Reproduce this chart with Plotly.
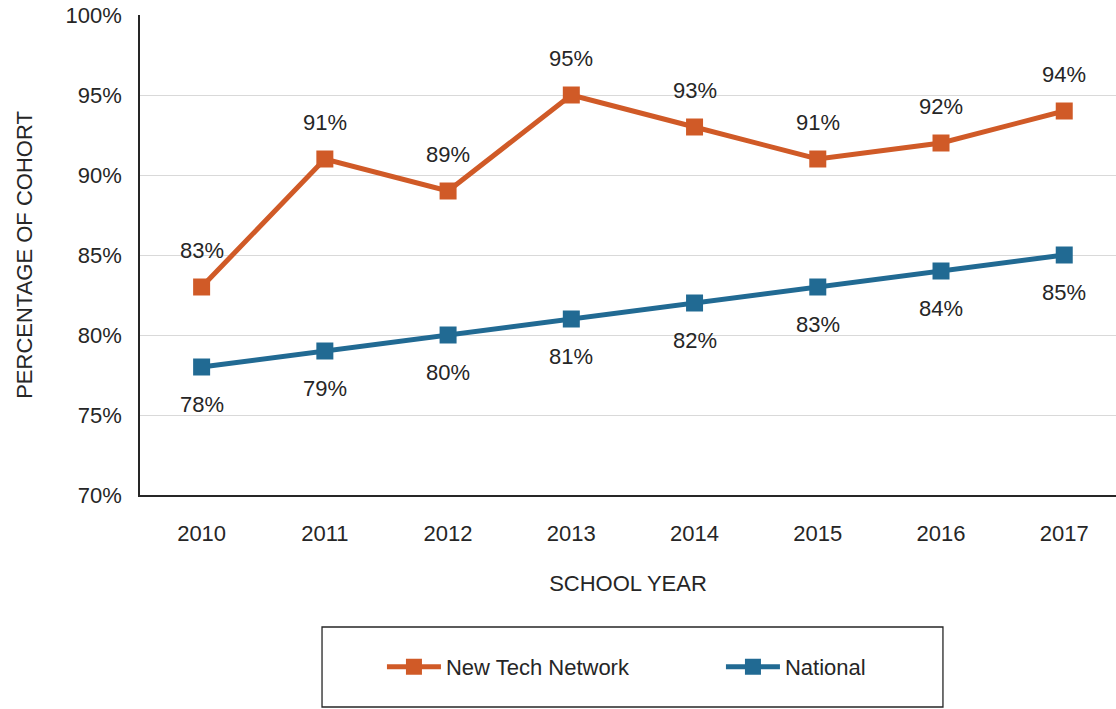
import plotly.graph_objects as go

years = [2010, 2011, 2012, 2013, 2014, 2015, 2016, 2017]
new_tech = [83, 91, 89, 95, 93, 91, 92, 94]
national = [78, 79, 80, 81, 82, 83, 84, 85]
y_ticks = [70, 75, 80, 85, 90, 95, 100]
y_tick_labels = [f"{v}%" for v in y_ticks]

ORANGE = "#D05A27"
BLUE = "#216A93"
TXT = "#262626"
FONT = "Liberation Sans"
FS = 22

fig = go.Figure()
fig.add_trace(go.Scatter(x=years, y=new_tech, name="New Tech Network", mode="lines+markers",
                         line=dict(color=ORANGE, width=5),
                         marker=dict(symbol="square", size=17, color=ORANGE)))
fig.add_trace(go.Scatter(x=years, y=national, name="National", mode="lines+markers",
                         line=dict(color=BLUE, width=5),
                         marker=dict(symbol="square", size=17, color=BLUE)))

for x, v in zip(years, new_tech):
    fig.add_annotation(x=x, y=v, text=f"{v}%", showarrow=False, yshift=37,
                       font=dict(size=FS, color=TXT, family=FONT))
for x, v in zip(years, national):
    fig.add_annotation(x=x, y=v, text=f"{v}%", showarrow=False, yshift=-37,
                       font=dict(size=FS, color=TXT, family=FONT))

fig.add_shape(type="rect", xref="paper", yref="paper",
              x0=0.1865, x1=0.8227, y0=-0.4417, y1=-0.275,
              line=dict(color="#262626", width=1.3), fillcolor="rgba(0,0,0,0)")

fig.update_layout(
    width=1116, height=709,
    margin=dict(l=140, r=0, t=15, b=214),
    paper_bgcolor="white", plot_bgcolor="white",
    font=dict(family=FONT, size=FS, color=TXT),
    showlegend=True,
    legend=dict(orientation="h", x=0.2479, xanchor="left", y=-0.358, yanchor="middle",
                font=dict(size=FS, color=TXT, family=FONT),
                itemwidth=54, entrywidth=270, bgcolor="rgba(0,0,0,0)"),
    xaxis=dict(range=[2009.5, 2017.42], tickvals=years, showgrid=False,
               showline=True, linecolor="#262626", linewidth=1.5,
               ticks="", ticklabelstandoff=18, tickfont=dict(size=FS, color=TXT),
               title=dict(text="SCHOOL YEAR", font=dict(size=FS, color=TXT), standoff=30)),
    yaxis=dict(range=[70, 100], tickvals=y_ticks, ticktext=y_tick_labels,
               showgrid=True, gridcolor="#D9D9D9", gridwidth=1,
               showline=True, linecolor="#262626", linewidth=1.5,
               zeroline=False, ticks="", ticklabelstandoff=12, tickfont=dict(size=FS, color=TXT),
               title=dict(text="PERCENTAGE OF COHORT", font=dict(size=FS, color=TXT), standoff=27)),
)

fig.write_html("out.html", config={"displayModeBar": False},
               post_script="document.body.style.margin='0';")
